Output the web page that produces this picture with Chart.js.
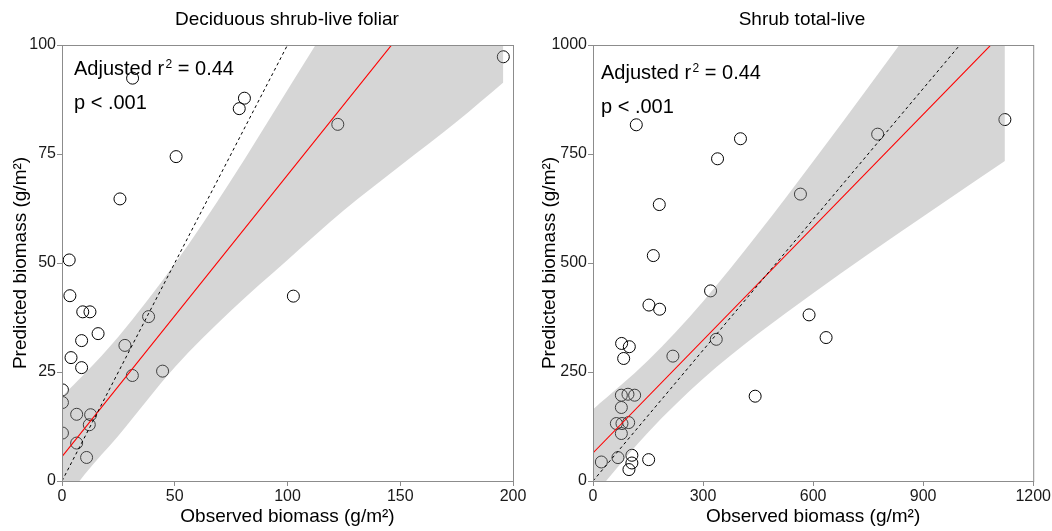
<!DOCTYPE html>
<html>
<head>
<meta charset="utf-8">
<script src="https://cdn.jsdelivr.net/npm/chart.js@4.4.1/dist/chart.umd.min.js"></script>
<style>
  html, body { margin: 0; padding: 0; background: #fff; overflow: hidden; }
  #wrap { position: relative; width: 1052px; height: 531px; }
  canvas { position: absolute; top: 0; }
  #leftChart { left: 0; }
  #rightChart { left: 522px; }
</style>
</head>
<body>
<div id="wrap">
  <canvas id="leftChart" width="540" height="531"></canvas>
  <canvas id="rightChart" width="530" height="531"></canvas>
</div>
<script>
// --- Deciduous shrub-live foliar (g/m2) ---
const decidObserved  = [31.3, 80.9, 78.6, 50.6, 25.7, 3.2, 3.5, 9.2, 12.4, 16.0, 8.7, 38.4, 27.9, 4.0,
                        8.7, 31.2, 44.6, 0.2, 0.2, 6.5, 12.7, 12.1, 0.2, 6.5, 10.9, 195.7, 122.3, 102.6];
const decidPredicted = [92.4, 87.8, 85.4, 74.4, 64.7, 50.7, 42.5, 38.8, 38.8, 33.8, 32.2, 37.7, 31.1, 28.3,
                        26.0, 24.2, 25.2, 20.9, 18.0, 15.3, 15.2, 12.9, 11.0, 8.7, 5.4, 97.3, 81.8, 42.4];
// regression line and its confidence band
const decidFitX = [0, 195.7];
const decidFitY = [5.6, 132.0];
const decidBandX    = [0, 10, 25, 50, 75, 100, 125, 150, 175, 195.7];
const decidBandLow  = [-5.5, 1.5, 10.4, 26.1, 39.1, 50.7, 62.1, 72.3, 82.4, 91.4];
const decidBandHigh = [19.4, 24.6, 33.1, 49.8, 69.0, 89.7, 110.6, 132.7, 155.0, 172.6];
const decidXTicks = [0, 50, 100, 150, 200];
const decidYTicks = [0, 25, 50, 75, 100];
const decidRsq = '0.44';
const decidP = '.001';

// --- Shrub total-live (g/m2) ---
const shrubObserved  = [118, 402, 339.5, 180.7, 164.4, 565.5, 1122.8, 776, 320.5, 589, 635.4, 336, 442,
                        152.5, 181.6, 78, 99, 83.6, 217.8, 77.3, 95.3, 113.5, 77.3, 63.7, 79, 97.2, 77.3,
                        22.8, 68, 106, 106, 98, 151.7];
const shrubPredicted = [817, 785, 739, 634, 517, 658, 829, 795.5, 436, 381, 329, 325, 194.5,
                        403.5, 394, 315.5, 308, 281, 286.4, 196.8, 199, 196.8, 168.6, 131.8, 131.8, 134, 108.9,
                        43.6, 53.7, 59, 41.3, 26.2, 49];
const shrubFitX = [0, 1122.8];
const shrubFitY = [64.3, 1033];
const shrubBandX    = [0, 150, 300, 450, 600, 750, 900, 1050, 1122.8];
const shrubBandLow  = [-35.4, 111.3, 234.3, 337.5, 430.9, 519.9, 606.8, 692.5, 734];
const shrubBandHigh = [164, 276.1, 411.9, 567.5, 732.9, 902.7, 1074.6, 1247.7, 1332];
const shrubXTicks = [0, 300, 600, 900, 1200];
const shrubYTicks = [0, 250, 500, 750, 1000];
const shrubRsq = '0.44';
const shrubP = '.001';

const FONT = '"Liberation Sans", Arial, Helvetica, sans-serif';
Chart.defaults.font.family = FONT;
const AXIS_GREY = '#8c8c8c';

const pairs = (xs, ys) => xs.map((x, i) => ({ x: x, y: ys[i] }));

// panel frame, title and the r2 / p annotation
const panelDecor = {
  id: 'panelDecor',
  afterDatasetsDraw(chart, args, opts) {
    const { ctx, chartArea: a } = chart;
    ctx.save();
    ctx.strokeStyle = AXIS_GREY;
    ctx.lineWidth = 1;
    ctx.strokeRect(a.left + 0.5, a.top + 0.5, a.right - a.left, a.bottom - a.top);
    ctx.restore();
  },
  afterDraw(chart, args, opts) {
    const ctx = chart.ctx;
    ctx.save();
    ctx.fillStyle = '#000';
    ctx.textBaseline = 'alphabetic';

    ctx.font = '19px ' + FONT;
    ctx.textAlign = 'center';
    ctx.fillText(opts.title, opts.titleX, 25);

    ctx.textAlign = 'left';
    const x = opts.noteX;
    let y = opts.noteY;
    ctx.font = '20px ' + FONT;
    ctx.fillText('Adjusted r', x, y);
    let w = ctx.measureText('Adjusted r').width + 1.5;
    ctx.font = '12px ' + FONT;
    ctx.fillText('2', x + w, y - 7);
    w += ctx.measureText('2').width;
    ctx.font = '20px ' + FONT;
    ctx.fillText(' = ' + opts.rsq, x + w, y);
    ctx.fillText('p < ' + opts.p, x, y + 34);
    ctx.restore();
  }
};

function makePanel(id, p) {
  const axis = (ticks, max, fit, title, titlePad) => ({
    type: 'linear',
    min: 0,
    max: max,
    afterBuildTicks: s => { s.ticks = ticks.map(v => ({ value: v })); },
    afterFit: fit,
    grid: { drawOnChartArea: false, drawTicks: true, tickLength: 5, color: AXIS_GREY },
    border: { display: true, color: AXIS_GREY, width: 1 },
    ticks: {
      color: '#1a1a1a', font: { size: 16 }, padding: 1, maxRotation: 0, autoSkip: false,
      callback: v => String(v)
    },
    title: { display: true, text: title, color: '#000', font: { size: 19, lineHeight: 1 }, padding: titlePad }
  });

  const band = (ys, extra) => Object.assign({
    data: pairs(p.bandX, ys),
    borderWidth: 0,
    borderColor: 'rgba(0,0,0,0)',
    pointRadius: 0,
    cubicInterpolationMode: 'monotone',
    clip: 0
  }, extra);

  return new Chart(document.getElementById(id), {
    type: 'line',
    data: {
      datasets: [
        {
          data: pairs(p.obs, p.pred),
          showLine: false,
          pointRadius: 6,
          pointHoverRadius: 6,
          pointBorderWidth: 1,
          pointBorderColor: '#000',
          pointBackgroundColor: 'rgba(0,0,0,0)',
          clip: 0,
          order: 5
        },
        band(p.bandLow, { fill: false, order: 4 }),
        band(p.bandHigh, { fill: '-1', backgroundColor: 'rgba(153,153,153,0.4)', order: 3 }),
        {
          data: pairs(p.fitX, p.fitY),
          borderColor: '#ff0000',
          borderWidth: 1.1,
          pointRadius: 0,
          fill: false,
          clip: 0,
          order: 2
        },
        {
          data: pairs([0, p.xMax], [0, p.xMax]),
          borderColor: '#000',
          borderWidth: 1,
          borderDash: [3, 3],
          pointRadius: 0,
          fill: false,
          clip: 0,
          order: 1
        }
      ]
    },
    options: {
      responsive: false,
      animation: false,
      events: [],
      layout: { padding: { top: 45, right: p.padRight, bottom: 0, left: 0 } },
      scales: {
        x: axis(p.xTicks, p.xMax, s => { s.height = 50; }, 'Observed biomass (g/m²)', { top: 0, bottom: 5 }),
        y: axis(p.yTicks, p.yMax, s => { s.width = p.yWidth; }, 'Predicted biomass (g/m²)', { top: p.yTitlePad, bottom: 0 })
      },
      plugins: {
        legend: { display: false },
        tooltip: { enabled: false },
        panelDecor: {
          title: p.title, titleX: p.titleX,
          noteX: p.noteX, noteY: p.noteY, rsq: p.rsq, p: p.p
        }
      }
    },
    plugins: [panelDecor]
  });
}

makePanel('leftChart', {
  obs: decidObserved, pred: decidPredicted,
  fitX: decidFitX, fitY: decidFitY,
  bandX: decidBandX, bandLow: decidBandLow, bandHigh: decidBandHigh,
  xTicks: decidXTicks, yTicks: decidYTicks, xMax: 200, yMax: 100,
  yWidth: 62, padRight: 27, yTitlePad: 11,
  title: 'Deciduous shrub-live foliar', titleX: 287,
  noteX: 74, noteY: 75, rsq: decidRsq, p: decidP
});

makePanel('rightChart', {
  obs: shrubObserved, pred: shrubPredicted,
  fitX: shrubFitX, fitY: shrubFitY,
  bandX: shrubBandX, bandLow: shrubBandLow, bandHigh: shrubBandHigh,
  xTicks: shrubXTicks, yTicks: shrubYTicks, xMax: 1200, yMax: 1000,
  yWidth: 71, padRight: 18, yTitlePad: 18,
  title: 'Shrub total-live', titleX: 280,
  noteX: 79, noteY: 79, rsq: shrubRsq, p: shrubP
});
</script>
</body>
</html>
